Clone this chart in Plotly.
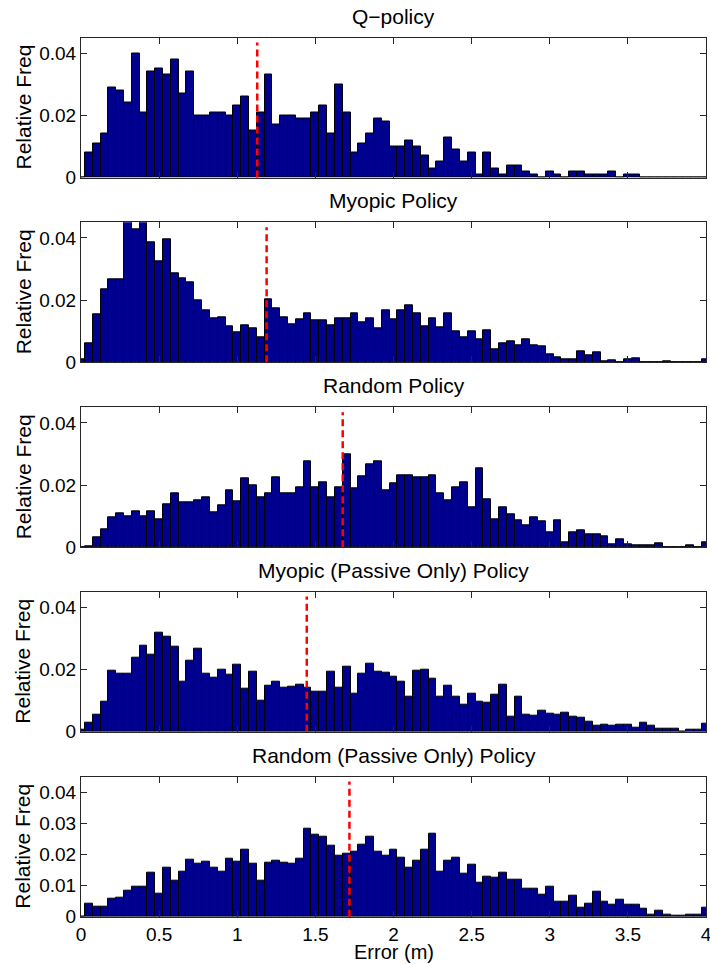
import plotly.graph_objects as go

# ---------------- data ----------------
bin_centers = [round(0.05 * j, 2) for j in range(81)]

titles = [
    "Q\u2212policy",
    "Myopic Policy",
    "Random Policy",
    "Myopic (Passive Only) Policy",
    "Random (Passive Only) Policy",
]

q_policy = [
    0, 0.008, 0.011, 0.014, 0.029, 0.028, 0.024, 0.040, 0.021, 0.034,
    0.035, 0.033, 0.038, 0.027, 0.034, 0.020, 0.020, 0.021, 0.021, 0.020,
    0.023, 0.026, 0.015, 0.021, 0.033, 0.017, 0.020, 0.020, 0.019, 0.019,
    0.021, 0.023, 0.014, 0.030, 0.021, 0.008, 0.011, 0.014, 0.019, 0.018,
    0.010, 0.010, 0.012, 0.010, 0.007, 0.003, 0.005, 0.013, 0.009, 0.005,
    0.008, 0.001, 0.008, 0.003, 0.001, 0.004, 0.004, 0.002, 0.001, 0,
    0.002, 0.001, 0, 0.002, 0.002, 0.001, 0.001, 0.001, 0.002, 0,
    0.001, 0.001, 0, 0, 0, 0, 0, 0, 0, 0,
    0,
]

myopic_policy = [
    0.001, 0.006, 0.0155, 0.0234, 0.0267, 0.0267, 0.047, 0.0426, 0.046, 0.0387,
    0.0324, 0.0396, 0.0286, 0.027, 0.0256, 0.0199, 0.0166, 0.0143, 0.0146, 0.0115,
    0.0098, 0.0118, 0.0108, 0.008, 0.0204, 0.0172, 0.0146, 0.0123, 0.0137, 0.0156,
    0.0135, 0.0135, 0.0118, 0.014, 0.0143, 0.0158, 0.0129, 0.014, 0.0108, 0.0166,
    0.0137, 0.0166, 0.0183, 0.0156, 0.0115, 0.0143, 0.0112, 0.0156, 0.0101, 0.008,
    0.0101, 0.0075, 0.0103, 0.0043, 0.0061, 0.0066, 0.0054, 0.0075, 0.0056, 0.005,
    0.0025, 0.0017, 0.001, 0.001, 0.0035, 0.0022, 0.0033, 0.0004, 0.0008, 0,
    0.001, 0.0014, 0, 0, 0, 0.0003, 0, 0, 0, 0,
    0.001,
]

random_policy = [
    0, 0.0004, 0.0033, 0.0057, 0.0096, 0.011, 0.0099, 0.0115, 0.0101, 0.0115,
    0.009, 0.0138, 0.0172, 0.0144, 0.0144, 0.0151, 0.0162, 0.0113, 0.0134, 0.0183,
    0.0148, 0.0222, 0.02, 0.016, 0.0172, 0.0226, 0.0172, 0.0172, 0.0194, 0.0277,
    0.0192, 0.021, 0.0162, 0.0194, 0.0299, 0.019, 0.0229, 0.0268, 0.0277, 0.0183,
    0.0206, 0.023, 0.023, 0.0225, 0.0225, 0.023, 0.0172, 0.0151, 0.0192, 0.021,
    0.0129, 0.0253, 0.0155, 0.0091, 0.0129, 0.0105, 0.0088, 0.007, 0.0096, 0.0082,
    0.0048, 0.0087, 0.0017, 0.0048, 0.0056, 0.0042, 0.0042, 0.0034, 0.0011, 0.0025,
    0.0011, 0.0005, 0.0005, 0.0005, 0.0012, 0, 0, 0, 0.0005, 0,
    0.0015,
]

myopic_passive = [
    0.0005, 0.003, 0.0056, 0.0096, 0.0197, 0.0188, 0.0188, 0.0238, 0.0275, 0.0248,
    0.0319, 0.0306, 0.0274, 0.016, 0.0227, 0.0267, 0.0188, 0.0174, 0.02, 0.0182,
    0.0215, 0.0137, 0.0192, 0.01, 0.0147, 0.0162, 0.0141, 0.0144, 0.0152, 0.0141,
    0.013, 0.0127, 0.0192, 0.0141, 0.0208, 0.0123, 0.0188, 0.0218, 0.0192, 0.0189,
    0.0177, 0.016, 0.0111, 0.0195, 0.0198, 0.017, 0.0111, 0.0147, 0.0114, 0.0088,
    0.0123, 0.0097, 0.0094, 0.0118, 0.0152, 0.0047, 0.0111, 0.0056, 0.0051, 0.0067,
    0.0059, 0.0056, 0.0062, 0.0047, 0.0044, 0.0032, 0.0018, 0.0022, 0.0018, 0.0022,
    0.0022, 0.0013, 0.003, 0.0018, 0.001, 0.001, 0.001, 0, 0.0005, 0.0005,
    0.0025,
]

random_passive = [
    0, 0.0043, 0.0032, 0.0032, 0.0059, 0.0061, 0.0083, 0.0095, 0.0095, 0.0141,
    0.0075, 0.0156, 0.0116, 0.0145, 0.0182, 0.017, 0.0178, 0.0159, 0.0145, 0.0188,
    0.0178, 0.0216, 0.0169, 0.0116, 0.0173, 0.0181, 0.0173, 0.0171, 0.0188, 0.0282,
    0.0265, 0.0257, 0.0227, 0.0195, 0.0202, 0.0208, 0.0231, 0.0256, 0.0209, 0.0195,
    0.0216, 0.0191, 0.0159, 0.0181, 0.0216, 0.0268, 0.0145, 0.0181, 0.0191, 0.0138,
    0.0167, 0.0108, 0.0127, 0.0124, 0.0141, 0.0119, 0.0119, 0.0091, 0.0091, 0.0072,
    0.0095, 0.0047, 0.0047, 0.0066, 0.0029, 0.0043, 0.008, 0.0047, 0.004, 0.0055,
    0.004, 0.0037, 0.0025, 0.0008, 0.0018, 0.0008, 0.0004, 0.0004, 0.0008, 0.0008,
    0.0029,
]

mean_errors = [1.128, 1.188, 1.675, 1.445, 1.718]

x_tick_vals = [0, 0.5, 1, 1.5, 2, 2.5, 3, 3.5, 4]
x_tick_text = ["0", "0.5", "1", "1.5", "2", "2.5", "3", "3.5", "4"]
y_tick_vals_coarse = [0, 0.02, 0.04]
y_tick_text_coarse = ["0", "0.02", "0.04"]
y_tick_vals_fine = [0, 0.01, 0.02, 0.03, 0.04]
y_tick_text_fine = ["0", "0.01", "0.02", "0.03", "0.04"]

series = [q_policy, myopic_policy, random_policy, myopic_passive, random_passive]

# ---------------- layout geometry ----------------
W, H = 710, 964
ML, MR, MT, MB = 81, 4, 37, 47
PH = H - MT - MB
panel_tops = [37.5, 222.3, 407.3, 591.7, 776.7]
panel_h = 140

FONT = "Liberation Sans, Arial, Helvetica, sans-serif"
AX_COLOR = "#262626"
BAR_COLOR = "#00008F"

fig = go.Figure()
layout = dict(
    width=W, height=H,
    margin=dict(l=ML, r=MR, t=MT, b=MB, autoexpand=False),
    paper_bgcolor="white", plot_bgcolor="white",
    showlegend=False, bargap=0,
    font=dict(family=FONT, size=19, color="black"),
)
shapes = []
annotations = []

for i, vals in enumerate(series):
    n = i + 1
    xa = "x" if n == 1 else f"x{n}"
    ya = "y" if n == 1 else f"y{n}"
    top = panel_tops[i]
    d0 = (H - MB - (top + panel_h)) / PH
    d1 = (H - MB - top) / PH
    fig.add_trace(go.Bar(
        x=bin_centers, y=vals, width=0.05,
        marker=dict(color=BAR_COLOR, line=dict(color="black", width=1)),
        xaxis=xa, yaxis=ya, hoverinfo="x+y",
    ))
    last = (n == 5)
    layout[f"xaxis{'' if n == 1 else n}"] = dict(
        domain=[0, 1], anchor=ya, range=[0, 4], automargin=False,
        showgrid=False, zeroline=False,
        showline=True, linecolor=AX_COLOR, linewidth=1, mirror="ticks",
        ticks="inside", ticklen=6, tickcolor=AX_COLOR, tickwidth=1,
        tickvals=x_tick_vals, ticktext=x_tick_text, ticklabeloverflow="allow",
        showticklabels=last, tickfont=dict(size=19, family=FONT, color="black"),
    )
    yv = y_tick_vals_fine if last else y_tick_vals_coarse
    yt = y_tick_text_fine if last else y_tick_text_coarse
    layout[f"yaxis{'' if n == 1 else n}"] = dict(
        domain=[d0, d1], anchor=xa, range=[0, 0.045], automargin=False,
        showgrid=False, zeroline=False,
        showline=True, linecolor=AX_COLOR, linewidth=1, mirror="ticks",
        ticks="inside", ticklen=6, tickcolor=AX_COLOR, tickwidth=1,
        tickvals=yv, ticktext=yt,
        tickfont=dict(size=19, family=FONT, color="black"),
    )
    # mean error line
    shapes.append(dict(
        type="line", xref=xa, yref=f"{ya} domain",
        x0=mean_errors[i], x1=mean_errors[i], y0=0, y1=0.965,
        line=dict(color="#FF0000", width=2.5, dash="7px,4px"),
        layer="above",
    ))
    # subplot title
    annotations.append(dict(
        text=titles[i], xref="x domain" if n == 1 else f"x{n} domain",
        yref=f"{ya} domain", x=0.5, y=1, xanchor="center", yanchor="bottom",
        yshift=8, showarrow=False, font=dict(size=21, family=FONT, color="black"),
    ))
    # y axis title
    annotations.append(dict(
        text="Relative Freq", xref="paper", yref=f"{ya} domain",
        x=(23 - ML) / (W - ML - MR), y=0.5, xanchor="center", yanchor="middle",
        textangle=-90, showarrow=False,
        font=dict(size=21, family=FONT, color="black"),
    ))

annotations.append(dict(
    text="Error (m)", xref="x5 domain", yref="y5 domain",
    x=0.5, y=0, xanchor="center", yanchor="middle", yshift=-35,
    showarrow=False, font=dict(size=20, family=FONT, color="black"),
))

layout["shapes"] = shapes
layout["annotations"] = annotations
fig.update_layout(**layout)
fig.write_html(
    "out.html",
    config={"displayModeBar": False},
    post_script="document.body.style.margin='0';document.body.style.overflow='hidden';",
)
